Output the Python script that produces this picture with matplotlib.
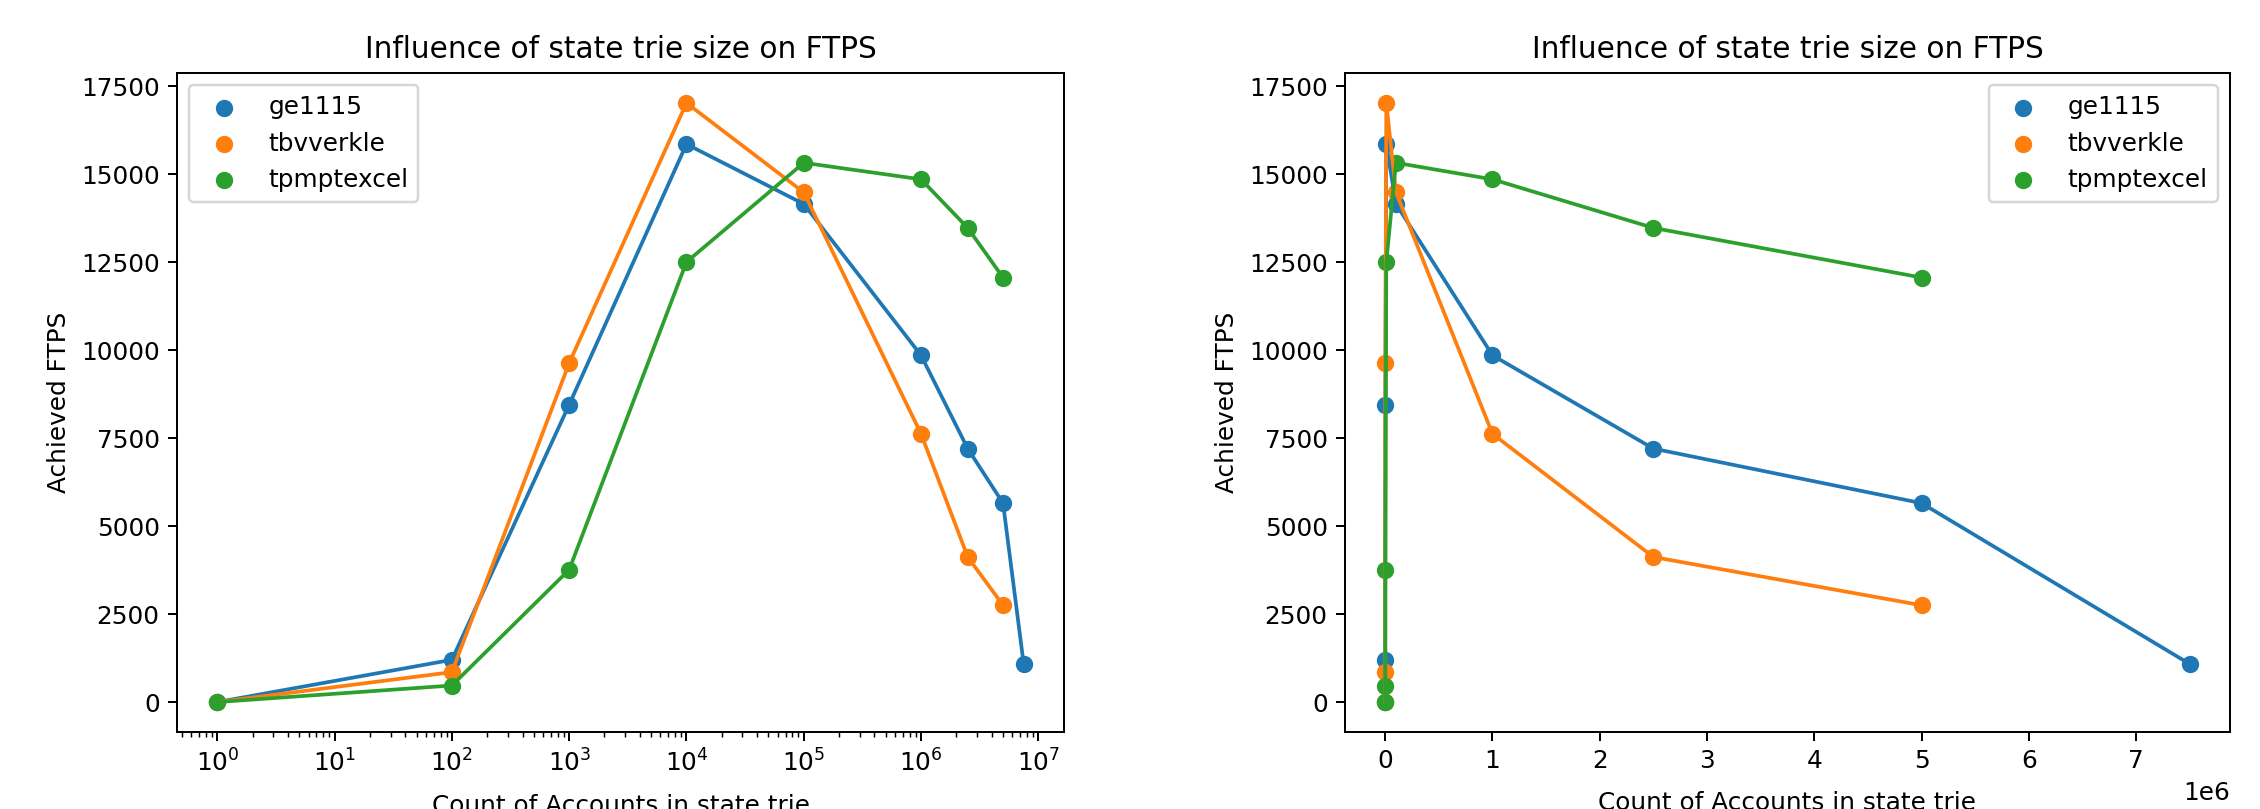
import matplotlib
matplotlib.use("Agg")
import matplotlib.pyplot as plt

names = ["ge1115", "tbvverkle", "tpmptexcel"]

x_ge = [1, 100, 1000, 10000, 100000, 1000000, 2500000, 5000000, 7500000]
y_ge = [0, 1200, 8450, 15850, 14150, 9850, 7200, 5650, 1080]

x_tb = [1, 100, 1000, 10000, 100000, 1000000, 2500000, 5000000]
y_tb = [0, 850, 9630, 17020, 14480, 7620, 4120, 2750]

x_tp = [1, 100, 1000, 10000, 100000, 1000000, 2500000, 5000000]
y_tp = [0, 470, 3760, 12500, 15320, 14850, 13470, 12060]

series = [(x_ge, y_ge), (x_tb, y_tb), (x_tp, y_tp)]

W, H, DPI = 2260, 809, 178
fig = plt.figure(figsize=(W / DPI, H / DPI), dpi=DPI)

ax1 = fig.add_axes([177 / W, 1 - 732 / H, (1064 - 177) / W, (732 - 73) / H])
ax2 = fig.add_axes([1345 / W, 1 - 732 / H, (2230 - 1345) / W, (732 - 73) / H])

for ax, loc in ((ax1, "upper left"), (ax2, "upper right")):
    for name, (xs, ys) in zip(names, series):
        ax.scatter(xs, ys, label=name)
    for i, (xs, ys) in enumerate(series):
        ax.plot(xs, ys, color=f"C{i}")
    ax.set_title("Influence of state trie size on FTPS")
    ax.set_ylabel("Achieved FTPS")
    ax.legend(loc=loc)

ax1.set_xscale("log")
ax1.set_xlabel("Count of Accounts in state trie", labelpad=7)
ax2.set_xlabel("Count of Accounts in state trie", labelpad=7)

fig.savefig("out.png", dpi=DPI)
